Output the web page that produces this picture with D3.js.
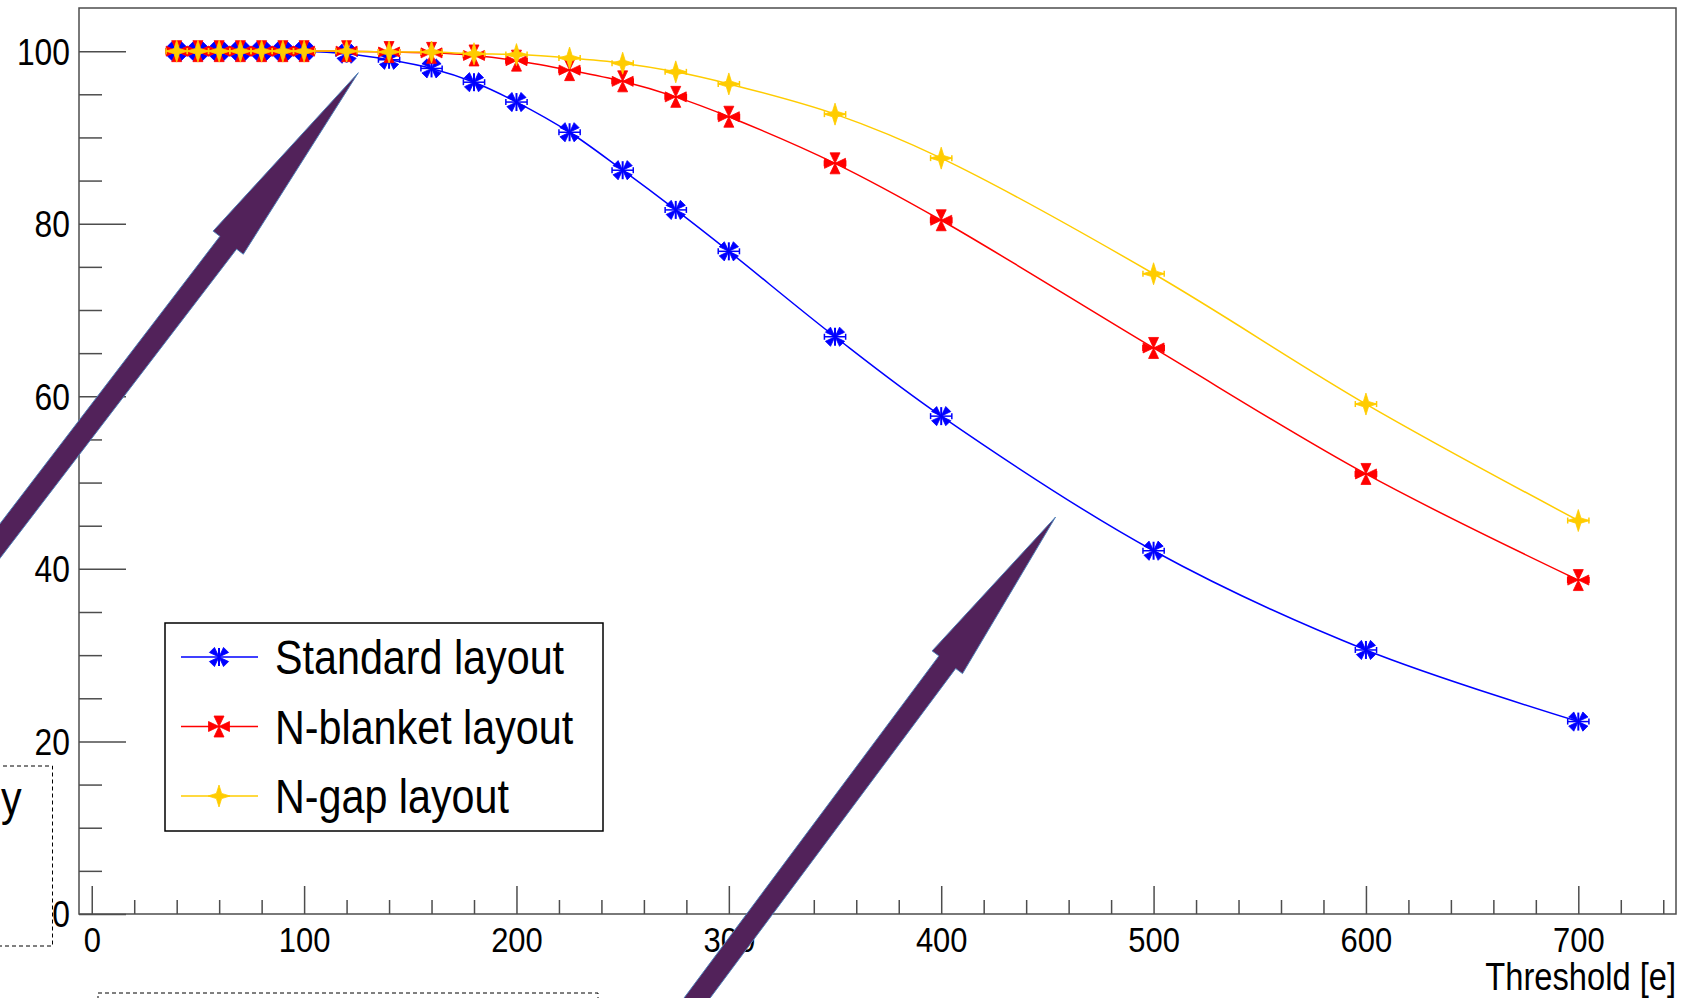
<!DOCTYPE html>
<html>
<head>
<meta charset="utf-8">
<script src="https://cdn.jsdelivr.net/npm/d3@7"></script>
<style>
  html, body { margin: 0; padding: 0; background: #fff; }
  svg { display: block; }
  text { font-family: "Liberation Sans", Arial, Helvetica, sans-serif; }
</style>
</head>
<body>
<svg id="chart" width="1686" height="998"></svg>
<script>
// ---------------- data ----------------
const thresholds = [40, 50, 60, 70, 80, 90, 100, 120, 140, 160, 180, 200, 225, 250, 275, 300, 350, 400, 500, 600, 700];
const standardLayout = [100, 100, 100, 100, 100, 100, 100, 99.7, 99.0, 98.0, 96.4, 94.1, 90.6, 86.2, 81.6, 76.8, 66.9, 57.7, 42.1, 30.6, 22.3];
const nBlanketLayout = [100, 100, 100, 100, 100, 100, 100, 100, 99.9, 99.8, 99.5, 98.9, 97.8, 96.5, 94.7, 92.4, 87.0, 80.4, 65.6, 51.0, 38.7];
const nGapLayout     = [100, 100, 100, 100, 100, 100, 100, 100, 99.9, 99.9, 99.7, 99.6, 99.2, 98.6, 97.6, 96.2, 92.7, 87.6, 74.2, 59.1, 45.6];
const thresholdError = 5;
const seriesNames = ["Standard layout", "N-blanket layout", "N-gap layout"];
const xTickValues = [0, 100, 200, 300, 400, 500, 600, 700];
const yTickValues = [0, 20, 40, 60, 80, 100];
const xAxisTitle = "Threshold [e]";
// annotation arrows (tail -> tip, data coordinates)
const arrowTails = [[-75, 33], [257, -19]];
const arrowTips  = [[125.5, 97.5], [453.8, 46.0]];

// ---------------- layout ----------------
const NARROW = 0.86;
const frame = { left: 79, right: 1676, top: 8, bottom: 914 };
const svg = d3.select("#chart");

const x = d3.scaleLinear().domain([-6, 746]).range([frame.left, frame.right]);
const y = d3.scaleLinear().domain([0, 105]).range([frame.bottom, frame.top]);

const axisColor = "#4d4d4d";

function narrowText(parent, px, py, str, size, anchor) {
  return parent.append("text")
    .attr("transform", `translate(${px},${py}) scale(${NARROW},1)`)
    .attr("text-anchor", anchor || "start")
    .attr("font-size", size).attr("fill", "#000").text(str);
}

// frame
svg.append("rect")
  .attr("x", frame.left).attr("y", frame.top)
  .attr("width", frame.right - frame.left).attr("height", frame.bottom - frame.top)
  .attr("fill", "none").attr("stroke", axisColor).attr("stroke-width", 1.5);

// x axis ticks (inward, upward)
const xMinor = d3.range(0, 741, 20).filter(v => v % 100 !== 0);
const xAxisMajor = d3.axisTop(x).tickValues(xTickValues).tickSize(28).tickFormat("");
const xAxisMinor = d3.axisTop(x).tickValues(xMinor).tickSize(14).tickFormat("");
[xAxisMajor, xAxisMinor].forEach(ax => {
  const g = svg.append("g").attr("transform", `translate(0,${frame.bottom})`).call(ax);
  g.select(".domain").remove();
  g.selectAll("line").attr("stroke", axisColor).attr("stroke-width", 1.5);
});
// x labels
const xLab = d3.axisBottom(x).tickValues(xTickValues).tickSize(0).tickPadding(0);
const gxl = svg.append("g").attr("transform", `translate(0,${frame.bottom})`).call(xLab);
gxl.select(".domain").remove();
gxl.selectAll("text").attr("y", 0).attr("dy", 0)
  .attr("transform", `translate(0,38) scale(${NARROW},1)`)
  .attr("font-size", 36).attr("fill", "#000")
  .style("font-family", '"Liberation Sans", Arial, sans-serif');

// y axis ticks (inward, rightward)
const yMinor = d3.range(0, 101, 5).filter(v => v % 20 !== 0);
const yAxisMajor = d3.axisRight(y).tickValues(yTickValues).tickSize(47).tickFormat("");
const yAxisMinor = d3.axisRight(y).tickValues(yMinor).tickSize(23).tickFormat("");
[yAxisMajor, yAxisMinor].forEach(ax => {
  const g = svg.append("g").attr("transform", `translate(${frame.left},0)`).call(ax);
  g.select(".domain").remove();
  g.selectAll("line").attr("stroke", axisColor).attr("stroke-width", 1.5);
});
const yLab = d3.axisLeft(y).tickValues(yTickValues).tickSize(0).tickPadding(0);
const gyl = svg.append("g").attr("transform", `translate(${frame.left},0)`).call(yLab);
gyl.select(".domain").remove();
gyl.selectAll("text").attr("x", 0).attr("dy", "0.35em")
  .attr("transform", `translate(-9,0) scale(${NARROW},1)`)
  .attr("font-size", 37).attr("fill", "#000")
  .style("font-family", '"Liberation Sans", Arial, sans-serif');

// x axis title
narrowText(svg, frame.right, 990, xAxisTitle, 38, "end");

// ---------------- marker shapes ----------------
function triPlus(R, w) {
  return `M0,0L${-w},${-R}L${w},${-R}Z M0,0L${R},${-w}L${R},${w}Z M0,0L${w},${R}L${-w},${R}Z M0,0L${-R},${w}L${-R},${-w}Z`;
}
function triX(R, w) {
  const pts = [];
  for (let k = 0; k < 4; k++) {
    const a = Math.PI / 4 + k * Math.PI / 2;
    const cx = Math.cos(a) * R, cy = Math.sin(a) * R;
    const px = -Math.sin(a) * w, py = Math.cos(a) * w;
    pts.push(`M0,0L${cx + px},${cy + py}L${cx - px},${cy - py}Z`);
  }
  return pts.join(" ");
}
function star4(R, a) {
  return `M0,${-R}L${a},${-a}L${R},0L${a},${a}L0,${R}L${-a},${a}L${-R},0L${-a},${-a}Z`;
}

const series = [
  { name: seriesNames[0], values: standardLayout, color: "#0000ff", shape: triX(10, 3.6), vline: 9 },
  { name: seriesNames[1], values: nBlanketLayout, color: "#ff0000", shape: triPlus(10.5, 5), vline: 0 },
  { name: seriesNames[2], values: nGapLayout,     color: "#ffcc00", shape: star4(11, 2.6), vline: 0 }
];

const line = d3.line()
  .x(d => x(d[0])).y(d => y(d[1]))
  .curve(d3.curveCatmullRom.alpha(0.5));

function drawMarker(g, cx, cy, s) {
  const m = g.append("g").attr("transform", `translate(${cx},${cy})`);
  m.append("path").attr("d", s.shape).attr("fill", s.color).attr("stroke", s.color).attr("stroke-width", 0.8);
  if (s.vline) {
    m.append("line").attr("x1", 0).attr("x2", 0).attr("y1", -s.vline).attr("y2", s.vline)
      .attr("stroke", s.color).attr("stroke-width", 2);
  }
}

series.forEach(s => {
  const pts = thresholds.map((t, i) => [t, s.values[i]]);
  const g = svg.append("g");
  g.append("path").attr("d", line(pts)).attr("fill", "none")
    .attr("stroke", s.color).attr("stroke-width", 1.5);
  // horizontal error bars
  pts.forEach(p => {
    const x0 = x(p[0] - thresholdError), x1 = x(p[0] + thresholdError), yy = y(p[1]);
    g.append("line").attr("x1", x0).attr("x2", x1).attr("y1", yy).attr("y2", yy)
      .attr("stroke", s.color).attr("stroke-width", 1.5);
    [x0, x1].forEach(xe => g.append("line").attr("x1", xe).attr("x2", xe)
      .attr("y1", yy - 3).attr("y2", yy + 3).attr("stroke", s.color).attr("stroke-width", 1.5));
  });
  pts.forEach(p => drawMarker(g, x(p[0]), y(p[1]), s));
});

// ---------------- legend ----------------
const legend = { x: 165, y: 623, w: 438, h: 208 };
svg.append("rect").attr("x", legend.x).attr("y", legend.y)
  .attr("width", legend.w).attr("height", legend.h)
  .attr("fill", "#fff").attr("stroke", "#000").attr("stroke-width", 1.5);
series.forEach((s, i) => {
  const cy = 657 + i * 69.5;
  svg.append("line").attr("x1", 181).attr("x2", 258).attr("y1", cy).attr("y2", cy)
    .attr("stroke", s.color).attr("stroke-width", 1.5);
  const g = svg.append("g");
  drawMarker(g, 219, cy, s);
  narrowText(svg, 275, cy + 17, s.name, 48, "start");
});

// ---------------- annotation arrows ----------------
function arrowPath(tail, tip, shaftW, headW, headL) {
  const dx = tip[0] - tail[0], dy = tip[1] - tail[1];
  const L = Math.hypot(dx, dy);
  const ux = dx / L, uy = dy / L, px = -uy, py = ux;
  const bx = tip[0] - ux * headL, by = tip[1] - uy * headL;
  const P = (a, b) => `${a.toFixed(1)},${b.toFixed(1)}`;
  return "M" + [
    P(tail[0] + px * shaftW / 2, tail[1] + py * shaftW / 2),
    P(bx + px * shaftW / 2, by + py * shaftW / 2),
    P(bx + px * headW / 2, by + py * headW / 2),
    P(tip[0], tip[1]),
    P(bx - px * headW / 2, by - py * headW / 2),
    P(bx - px * shaftW / 2, by - py * shaftW / 2),
    P(tail[0] - px * shaftW / 2, tail[1] - py * shaftW / 2)
  ].join("L") + "Z";
}
const headLengths = [214, 181];
arrowTails.forEach((t, i) => {
  const tail = [x(t[0]), y(t[1])];
  const tip = [x(arrowTips[i][0]), y(arrowTips[i][1])];
  svg.append("path").attr("d", arrowPath(tail, tip, 21, 38, headLengths[i]))
    .attr("fill", "#52225a").attr("stroke", "#4f7fb8").attr("stroke-width", 1);
});

// ---------------- dashed boxes (partially visible) ----------------
svg.append("rect").attr("x", -60).attr("y", 766).attr("width", 60 + 52.5).attr("height", 180)
  .attr("fill", "none").attr("stroke", "#000").attr("stroke-width", 1).attr("stroke-dasharray", "4,3");
narrowText(svg, 1, 815, "y", 48, "start");
svg.append("rect").attr("x", 98).attr("y", 993).attr("width", 500).attr("height", 60)
  .attr("fill", "none").attr("stroke", "#000").attr("stroke-width", 1).attr("stroke-dasharray", "4,3");
</script>
</body>
</html>
